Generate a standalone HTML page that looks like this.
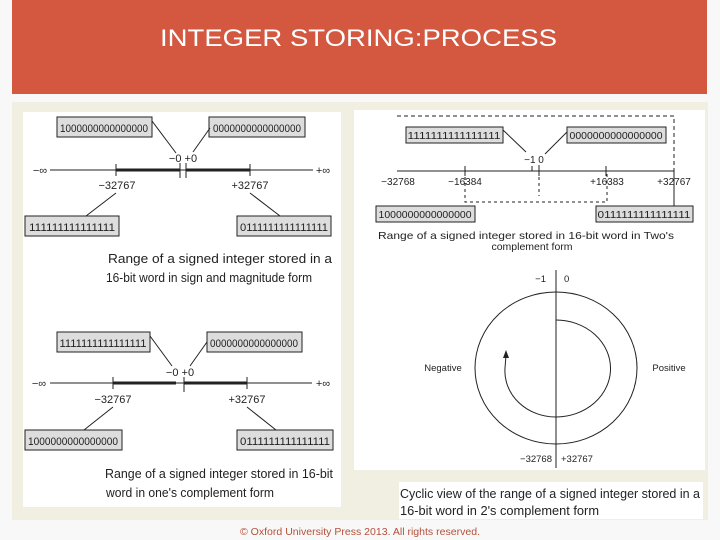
<!DOCTYPE html>
<html><head><meta charset="utf-8"><style>
html,body{margin:0;padding:0;background:#f8f8f8;}
svg{display:block;font-family:"Liberation Sans",sans-serif;}
</style></head><body>
<svg width="720" height="540" viewBox="0 0 720 540" xmlns="http://www.w3.org/2000/svg">
<rect x="0" y="0" width="720" height="540" fill="#f8f8f8"/>
<rect x="12" y="0" width="695" height="94" fill="#d4573f"/>
<text x="160" y="46" fill="#fff" font-size="24" textLength="397" lengthAdjust="spacingAndGlyphs">INTEGER STORING:PROCESS</text>
<rect x="12" y="102" width="696" height="418" fill="#f0efe1"/>
<rect x="23" y="112" width="318" height="395" fill="#fff"/>
<rect x="354" y="110" width="351" height="360" fill="#fff"/>
<rect x="399" y="482" width="304" height="37" fill="#fff"/>

<g stroke="#222" stroke-width="1" fill="none">
<!-- left top -->
<rect x="57" y="117" width="95" height="20" fill="#ddd"/>
<rect x="209" y="117" width="96" height="20" fill="#ddd"/>
<rect x="25" y="216" width="94" height="20" fill="#ddd"/>
<rect x="237" y="216" width="94" height="20" fill="#ddd"/>
<line x1="50" y1="170" x2="313" y2="170"/>
<line x1="116" y1="170" x2="180" y2="170" stroke-width="3"/>
<line x1="186" y1="170" x2="250" y2="170" stroke-width="3"/>
<line x1="116" y1="164" x2="116" y2="176"/><line x1="250" y1="164" x2="250" y2="176"/>
<line x1="180" y1="163" x2="180" y2="178"/><line x1="186" y1="163" x2="186" y2="178"/>
<line x1="152" y1="121" x2="176" y2="153"/><line x1="210" y1="128" x2="193" y2="152"/>
<line x1="116" y1="193" x2="86" y2="216"/><line x1="250" y1="193" x2="280" y2="216"/>
<!-- left bottom -->
<rect x="57" y="332" width="93" height="20" fill="#ddd"/>
<rect x="207" y="332" width="95" height="20" fill="#ddd"/>
<rect x="25" y="430" width="97" height="20" fill="#ddd"/>
<rect x="237" y="430" width="96" height="20" fill="#ddd"/>
<line x1="50" y1="383" x2="312" y2="383"/>
<line x1="113" y1="383" x2="176" y2="383" stroke-width="3"/>
<line x1="184" y1="383" x2="247" y2="383" stroke-width="3"/>
<line x1="113" y1="377" x2="113" y2="389"/><line x1="247" y1="377" x2="247" y2="389"/>
<line x1="184" y1="377" x2="184" y2="392"/>
<line x1="150" y1="336" x2="172" y2="366"/><line x1="207" y1="342" x2="190" y2="366"/>
<line x1="113" y1="407" x2="84" y2="430"/><line x1="247" y1="407" x2="276" y2="430"/>
<!-- right top -->
<path d="M397,116 H674 V171" stroke-dasharray="4,3"/>
<rect x="406" y="127" width="97" height="16" fill="#ddd"/>
<rect x="567" y="127" width="99" height="16" fill="#ddd"/>
<rect x="376" y="206" width="99" height="16" fill="#ddd"/>
<rect x="596" y="206" width="97" height="16" fill="#ddd"/>
<line x1="397" y1="171" x2="674" y2="171"/>
<line x1="465" y1="166" x2="465" y2="176"/><line x1="539" y1="165" x2="539" y2="176"/>
<line x1="532" y1="166" x2="532" y2="171"/>
<line x1="606" y1="166" x2="606" y2="176"/>
<path d="M465,171 V202 H607 V171" stroke-dasharray="3,3"/>
<line x1="539" y1="171" x2="539" y2="196" stroke-dasharray="3,3"/>
<line x1="674" y1="171" x2="674" y2="206"/>
<line x1="503" y1="130" x2="526" y2="152"/><line x1="567" y1="132" x2="545" y2="154"/>
<!-- circle -->
<line x1="556" y1="270" x2="556" y2="468"/>
<ellipse cx="556" cy="368" rx="81" ry="76"/>
<path d="M556,320 A54,48 0 0 1 556,417 A51,46 0 0 1 505,368 L506,355"/>
</g>
<path d="M506,350 L503,358 L509,358 Z" fill="#222"/>

<g font-size="11" fill="#222" font-family="Liberation Sans, sans-serif">
<text x="104" y="132" text-anchor="middle" textLength="88" lengthAdjust="spacingAndGlyphs">1000000000000000</text>
<text x="257" y="132" text-anchor="middle" textLength="88" lengthAdjust="spacingAndGlyphs">0000000000000000</text>
<text x="72" y="231" text-anchor="middle" textLength="86" lengthAdjust="spacingAndGlyphs">111111111111111</text>
<text x="284" y="231" text-anchor="middle" textLength="88" lengthAdjust="spacingAndGlyphs">0111111111111111</text>
<text x="183" y="162" text-anchor="middle">−0 +0</text>
<text x="40" y="174" text-anchor="middle">−∞</text>
<text x="323" y="174" text-anchor="middle">+∞</text>
<text x="117" y="189" text-anchor="middle">−32767</text>
<text x="250" y="189" text-anchor="middle">+32767</text>

<text x="103" y="347" text-anchor="middle" textLength="87" lengthAdjust="spacingAndGlyphs">1111111111111111</text>
<text x="254" y="347" text-anchor="middle" textLength="88" lengthAdjust="spacingAndGlyphs">0000000000000000</text>
<text x="73" y="445" text-anchor="middle" textLength="90" lengthAdjust="spacingAndGlyphs">1000000000000000</text>
<text x="285" y="445" text-anchor="middle" textLength="90" lengthAdjust="spacingAndGlyphs">0111111111111111</text>
<text x="180" y="376" text-anchor="middle">−0 +0</text>
<text x="39" y="387" text-anchor="middle">−∞</text>
<text x="323" y="387" text-anchor="middle">+∞</text>
<text x="113" y="403" text-anchor="middle">−32767</text>
<text x="247" y="403" text-anchor="middle">+32767</text>

<text font-size="10" x="454" y="139" text-anchor="middle" textLength="93" lengthAdjust="spacingAndGlyphs">1111111111111111</text>
<text font-size="10" x="616" y="139" text-anchor="middle" textLength="93" lengthAdjust="spacingAndGlyphs">0000000000000000</text>
<text font-size="10" x="425" y="218" text-anchor="middle" textLength="93" lengthAdjust="spacingAndGlyphs">1000000000000000</text>
<text font-size="10" x="644" y="218" text-anchor="middle" textLength="93" lengthAdjust="spacingAndGlyphs">0111111111111111</text>
<text font-size="10" x="534" y="163" text-anchor="middle">−1 0</text>
<text font-size="10" x="398" y="185" text-anchor="middle">−32768</text>
<text font-size="10" x="465" y="185" text-anchor="middle">−16384</text>
<text font-size="10" x="607" y="185" text-anchor="middle">+16383</text>
<text font-size="10" x="674" y="185" text-anchor="middle">+32767</text>
<text font-size="10.5" x="378" y="239" textLength="296" lengthAdjust="spacingAndGlyphs">Range of a signed integer stored in 16-bit word in Two's</text>
<text font-size="10.5" x="532" y="250" text-anchor="middle">complement form</text>

<text font-size="9.5" x="546" y="282" text-anchor="end">−1</text>
<text font-size="9.5" x="564" y="282">0</text>
<text font-size="9.5" x="443" y="371" text-anchor="middle">Negative</text>
<text font-size="9.5" x="669" y="371" text-anchor="middle">Positive</text>
<text font-size="9.5" x="552" y="462" text-anchor="end">−32768</text>
<text font-size="9.5" x="561" y="462">+32767</text>
</g>
<g font-size="12.5" fill="#222">
<text x="108" y="263" textLength="224" lengthAdjust="spacingAndGlyphs">Range of a signed integer stored in a</text>
<text x="106" y="282" textLength="206" lengthAdjust="spacingAndGlyphs">16-bit word in sign and magnitude form</text>
<text x="105" y="478" textLength="228" lengthAdjust="spacingAndGlyphs">Range of a signed integer stored in 16-bit</text>
<text x="106" y="497" textLength="168" lengthAdjust="spacingAndGlyphs">word in one's complement form</text>
<text x="400" y="498" textLength="300" lengthAdjust="spacingAndGlyphs">Cyclic view of the range of a signed integer stored in a</text>
<text x="400" y="515" textLength="199" lengthAdjust="spacingAndGlyphs">16-bit word in 2's complement form</text>
</g>
<text x="360" y="535" font-size="10" fill="#b5503a" text-anchor="middle" textLength="240" lengthAdjust="spacingAndGlyphs">© Oxford University Press 2013. All rights reserved.</text>
</svg>
</body></html>
